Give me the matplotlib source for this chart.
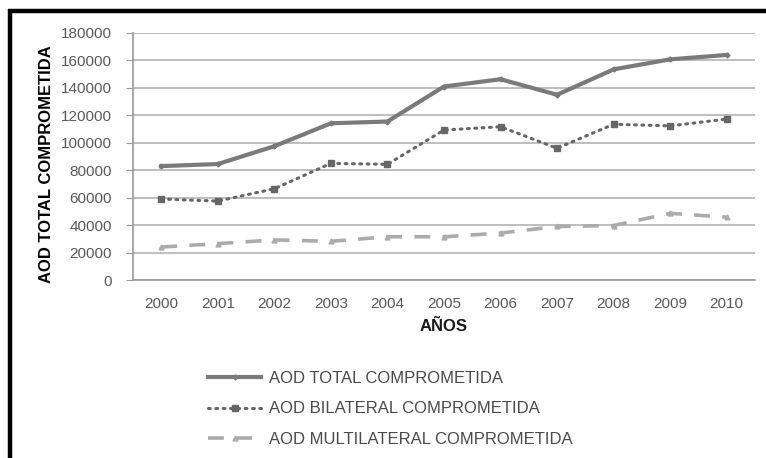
import matplotlib
matplotlib.use("Agg")
import matplotlib.pyplot as plt
from matplotlib.lines import Line2D

years = ["2000", "2001", "2002", "2003", "2004", "2005", "2006", "2007", "2008", "2009", "2010"]
total = [83000, 84500, 97500, 114200, 115500, 141000, 146300, 135000, 153500, 160800, 164000]
bilateral = [59000, 57500, 66500, 85000, 84300, 109300, 111700, 96000, 113500, 112300, 117300]
multilateral = [24000, 26500, 29200, 28200, 31500, 31500, 34200, 39000, 39700, 48600, 45800]
yticks = [0, 20000, 40000, 60000, 80000, 100000, 120000, 140000, 160000, 180000]

plt.rcParams['font.family'] = ['Liberation Sans', 'DejaVu Sans']

W, H = 766, 458
fig = plt.figure(figsize=(W / 100, H / 100), dpi=100)
ax = fig.add_axes([133 / W, 1 - 280 / H, (755 - 133) / W, (280 - 33) / H])

x = list(range(len(years)))
ax.plot(x, total, color='#7a7a7a', lw=3, marker='D', ms=2.5, label='AOD TOTAL COMPROMETIDA')
ax.plot(x, bilateral, color='#666666', lw=2.2, ls=(0, (0.6, 1.8)), dash_capstyle='round',
        marker='s', ms=4, label='AOD BILATERAL COMPROMETIDA')
ax.plot(x, multilateral, color='#ababab', lw=2.6, ls=(0, (4.4, 3.4)), marker='^', ms=3.5,
        label='AOD MULTILATERAL COMPROMETIDA')

ax.set_xlim(-0.5, len(years) - 0.5)
ax.set_ylim(0, 180000)
ax.set_yticks(yticks)
ax.set_yticklabels([str(v) for v in yticks])
ax.set_xticks(x)
ax.set_xticklabels(years)
ax.grid(axis='y', color='#b3b3b3', lw=1.2)
ax.set_axisbelow(True)
for s in ['top', 'right']:
    ax.spines[s].set_visible(False)
ax.spines['left'].set_color('#9a9a9a')
ax.spines['bottom'].set_color('#9a9a9a')
ax.spines['left'].set_linewidth(1.2)
ax.spines['bottom'].set_linewidth(1.2)
ax.tick_params(axis='y', colors='#9a9a9a', labelcolor='#595959', labelsize=11, length=5, pad=10)
ax.tick_params(axis='x', length=0, labelcolor='#595959', labelsize=11, pad=12)

ax.set_ylabel('AOD TOTAL COMPROMETIDA', fontsize=12, fontweight='bold', color='black')
ax.yaxis.set_label_coords(-0.127, 0.47)
ax.set_xlabel('AÑOS', fontsize=12, fontweight='bold', color='#1a1a1a', labelpad=6)

leg = fig.legend(loc='upper left', bbox_to_anchor=(208 / W, 1 - 371 / H), frameon=False,
                 fontsize=12, handlelength=3.2, labelspacing=0.92, handletextpad=0.45,
                 borderaxespad=0, borderpad=0, labelcolor='#4a4a4a')

# black frame (top and left)
fig.add_artist(Line2D([8 / W, 1], [1 - 11 / H, 1 - 11 / H], color='black', lw=3.2,
                      transform=fig.transFigure, solid_capstyle='butt'))
fig.add_artist(Line2D([10 / W, 10 / W], [0, 1 - 9 / H], color='black', lw=3.2,
                      transform=fig.transFigure, solid_capstyle='butt'))

fig.savefig('out.png', dpi=100)
